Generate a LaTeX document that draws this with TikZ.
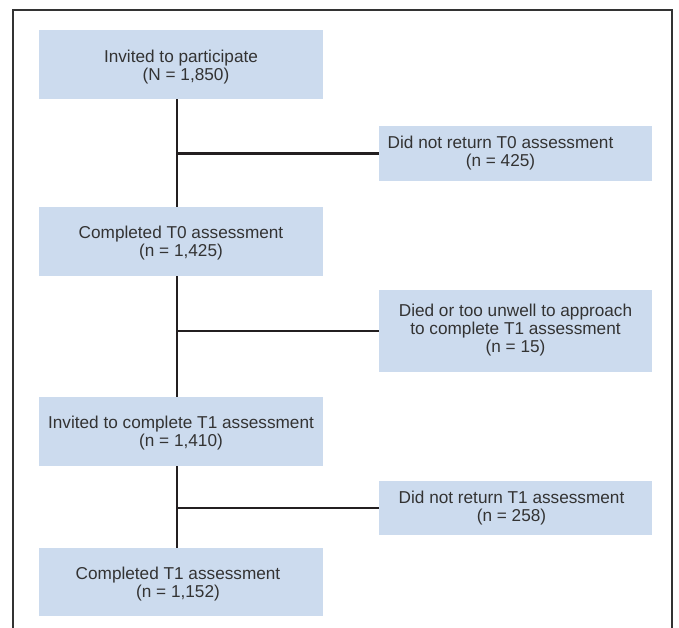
\documentclass[tikz,border=0pt]{standalone}
\usepackage{fontspec}
\setmainfont{Liberation Sans}
\definecolor{boxfill}{HTML}{CCDBEE}
\definecolor{txt}{HTML}{333333}
\definecolor{ln}{HTML}{231F20}
\begin{document}
\begin{tikzpicture}[x=1pt,y=-1pt,
  box/.style={fill=boxfill,draw=none,inner sep=0pt},
  lbox/.style={box,minimum width=284pt},
  rbox/.style={box,minimum width=273pt},
  lbl/.style={inner sep=0pt,text=txt,align=center,
    font=\fontsize{17.2pt}{18pt}\selectfont},
  conn/.style={draw=ln,line width=2.6pt},
  frame/.style={draw=txt,line width=1.5pt}]
\useasboundingbox (0,0) rectangle (679,628);
\draw[frame] (13,628) -- (13,10) -- (672,10) -- (672,628);
\node[lbox,minimum height=69pt] (b1) at (181,64.5) {};
\node[lbl] (t1) at ([yshift=-2.5pt]b1.center) {Invited to participate\\\hspace*{10pt}(N = 1,850)};
\node[rbox,minimum height=55pt] (b2) at (515.5,153.5) {};
\node[lbl] (t2) at ([xshift=-15pt]b2.center) {Did not return T0 assessment\\(n = 425)};
\node[lbox,minimum height=69pt] (b3) at (181,241.5) {};
\node[lbl] (t3) at ([yshift=-1.5pt]b3.center) {Completed T0 assessment\\(n = 1,425)};
\node[rbox,minimum height=82pt] (b4) at (515.5,331) {};
\node[lbl] (t4) at ([yshift=1pt]b4.center) {Died or too unwell to approach\\to complete T1 assessment\\(n = 15)};
\node[lbox,minimum height=69pt] (b5) at (181,431.5) {};
\node[lbl] (t5) at ([yshift=-1.5pt]b5.center) {Invited to complete T1 assessment\\(n = 1,410)};
\node[rbox,minimum height=54pt] (b6) at (515.5,508) {};
\node[lbl] (t6) at ([xshift=-4pt]b6.center) {Did not return T1 assessment\\(n = 258)};
\node[lbox,minimum height=68pt] (b7) at (181,582) {};
\node[lbl] (t7) at ([xshift=-3pt,yshift=-2pt]b7.center) {Completed T1 assessment\\(n = 1,152)};
\draw[conn] ([xshift=-4pt]b1.south) -- ([xshift=-4pt]b3.north);
\draw[conn] ([xshift=-4pt]b3.south) -- ([xshift=-4pt]b5.north);
\draw[conn] ([xshift=-4pt]b5.south) -- ([xshift=-4pt]b7.north);
\draw[conn] (b2.west) -- ([xshift=-4pt]b2.west -| b1.south);
\draw[conn] (b4.west) -- ([xshift=-4pt]b4.west -| b3.south);
\draw[conn] (b6.west) -- ([xshift=-4pt]b6.west -| b5.south);
\end{tikzpicture}
\end{document}
